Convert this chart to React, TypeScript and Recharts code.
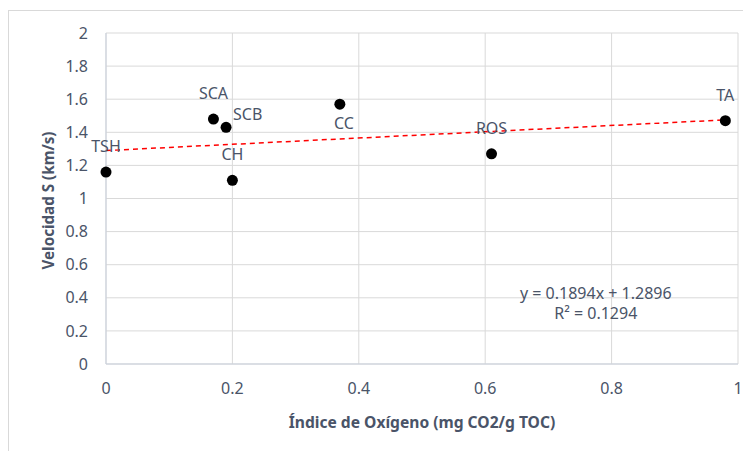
import { ScatterChart, Scatter, XAxis, YAxis, CartesianGrid, LabelList, ReferenceLine, ReferenceDot } from "recharts"

const sampleNames = ["TSH", "SCA", "SCB", "CH", "CC", "ROS", "TA"]
const oxygenIndex = [0, 0.17, 0.19, 0.2, 0.37, 0.61, 0.98]
const velocityS = [1.16, 1.48, 1.43, 1.11, 1.57, 1.27, 1.47]

const xTicks = [0, 0.2, 0.4, 0.6, 0.8, 1]
const yTicks = [0, 0.2, 0.4, 0.6, 0.8, 1, 1.2, 1.4, 1.6, 1.8, 2]

// linear trendline shown on the chart
const slope = 0.1894
const intercept = 1.2896
const rSquared = 0.1294

// where each point label sits (default is above the marker)
const labelSide: Record<string, "above" | "right" | "below"> = {
  SCB: "right",
  CC: "below",
}

const TEXT = "#4A5468"
const FONT = "'Noto Sans', sans-serif"

const points = sampleNames.map((name, i) => ({ name, x: oxygenIndex[i], y: velocityS[i] }))

const xMax = Math.max(...oxygenIndex)
const trend = [
  { x: 0, y: intercept },
  { x: xMax, y: intercept + slope * xMax },
]

const renderPointLabel = (props: any) => {
  const { x, y, width, height, value } = props
  const cx = x + width / 2
  const cy = y + height / 2
  const side = labelSide[value] || "above"
  let tx = cx
  let ty = cy - 20
  let anchor: "middle" | "start" = "middle"
  if (side === "right") {
    tx = cx + 7
    ty = cy - 7
    anchor = "start"
  } else if (side === "below") {
    tx = cx + 4
    ty = cy + 25
  }
  return (
    <text x={tx} y={ty} textAnchor={anchor} fill={TEXT} fontSize={16} fontFamily={FONT}>
      {value}
    </text>
  )
}

const equationShape = (props: any) => {
  const { cx, cy } = props
  return (
    <g>
      <text x={cx} y={cy - 4} textAnchor="middle" fill={TEXT} fontSize={16} fontFamily={FONT}>
        {`y = ${slope}x + ${intercept}`}
      </text>
      <text x={cx} y={cy + 16} textAnchor="middle" fill={TEXT} fontSize={16} fontFamily={FONT}>
        {`R² = ${rSquared}`}
      </text>
    </g>
  )
}

export default function App() {
  return (
    <div
      style={{
        marginTop: 2,
        width: 742,
        height: 441,
        borderTop: "1px solid #D9D9D9",
        borderLeft: "1px solid #D9D9D9",
        background: "#fff",
        fontFamily: FONT,
      }}
    >
      <ScatterChart width={742} height={440} margin={{ top: 22, right: 13, bottom: 0, left: 0 }}>
        <CartesianGrid stroke="#D9D9D9" />
        <XAxis
          type="number"
          dataKey="x"
          domain={[0, 1]}
          ticks={xTicks}
          tickLine={false}
          tickSize={0}
          tickMargin={19}
          height={87}
          axisLine={{ stroke: "#C9D0DC" }}
          tick={{ fill: TEXT, fontSize: 16, fontFamily: FONT }}
          label={{
            content: (p: any) => {
              const vb = p.viewBox
              return (
                <text x={vb.x + vb.width / 2} y={vb.y + 64} textAnchor="middle" fill={TEXT} fontSize={15.6} fontWeight="bold" fontFamily={FONT}>
                  Índice de Oxígeno (mg CO2/g TOC)
                </text>
              )
            },
          }}
        />
        <YAxis
          type="number"
          dataKey="y"
          domain={[0, 2]}
          ticks={yTicks}
          tickLine={false}
          tickSize={0}
          tickMargin={18}
          width={97}
          axisLine={{ stroke: "#C9D0DC" }}
          tick={{ fill: TEXT, fontSize: 16, fontFamily: FONT }}
          label={{
            content: (p: any) => {
              const vb = p.viewBox
              const cx = 39
              const cy = vb.y + vb.height / 2 + 2
              return (
                <text x={cx} y={cy} transform={`rotate(-90 ${cx} ${cy})`} textAnchor="middle" dominantBaseline="central" fill={TEXT} fontSize={15.2} fontWeight="bold" fontFamily={FONT}>
                  Velocidad S (km/s)
                </text>
              )
            },
          }}
        />
        <ReferenceLine
          segment={trend}
          stroke="#FF0000"
          strokeWidth={1.5}
          strokeDasharray="5 4"
        />
        <Scatter data={points} fill="#000" isAnimationActive={false} shape={(p: any) => <circle cx={p.cx} cy={p.cy} r={5.5} fill="#000" />}>
          <LabelList dataKey="name" content={renderPointLabel} />
        </Scatter>
        <ReferenceDot x={0.775} y={0.37} r={0} shape={equationShape} />
      </ScatterChart>
    </div>
  )
}
